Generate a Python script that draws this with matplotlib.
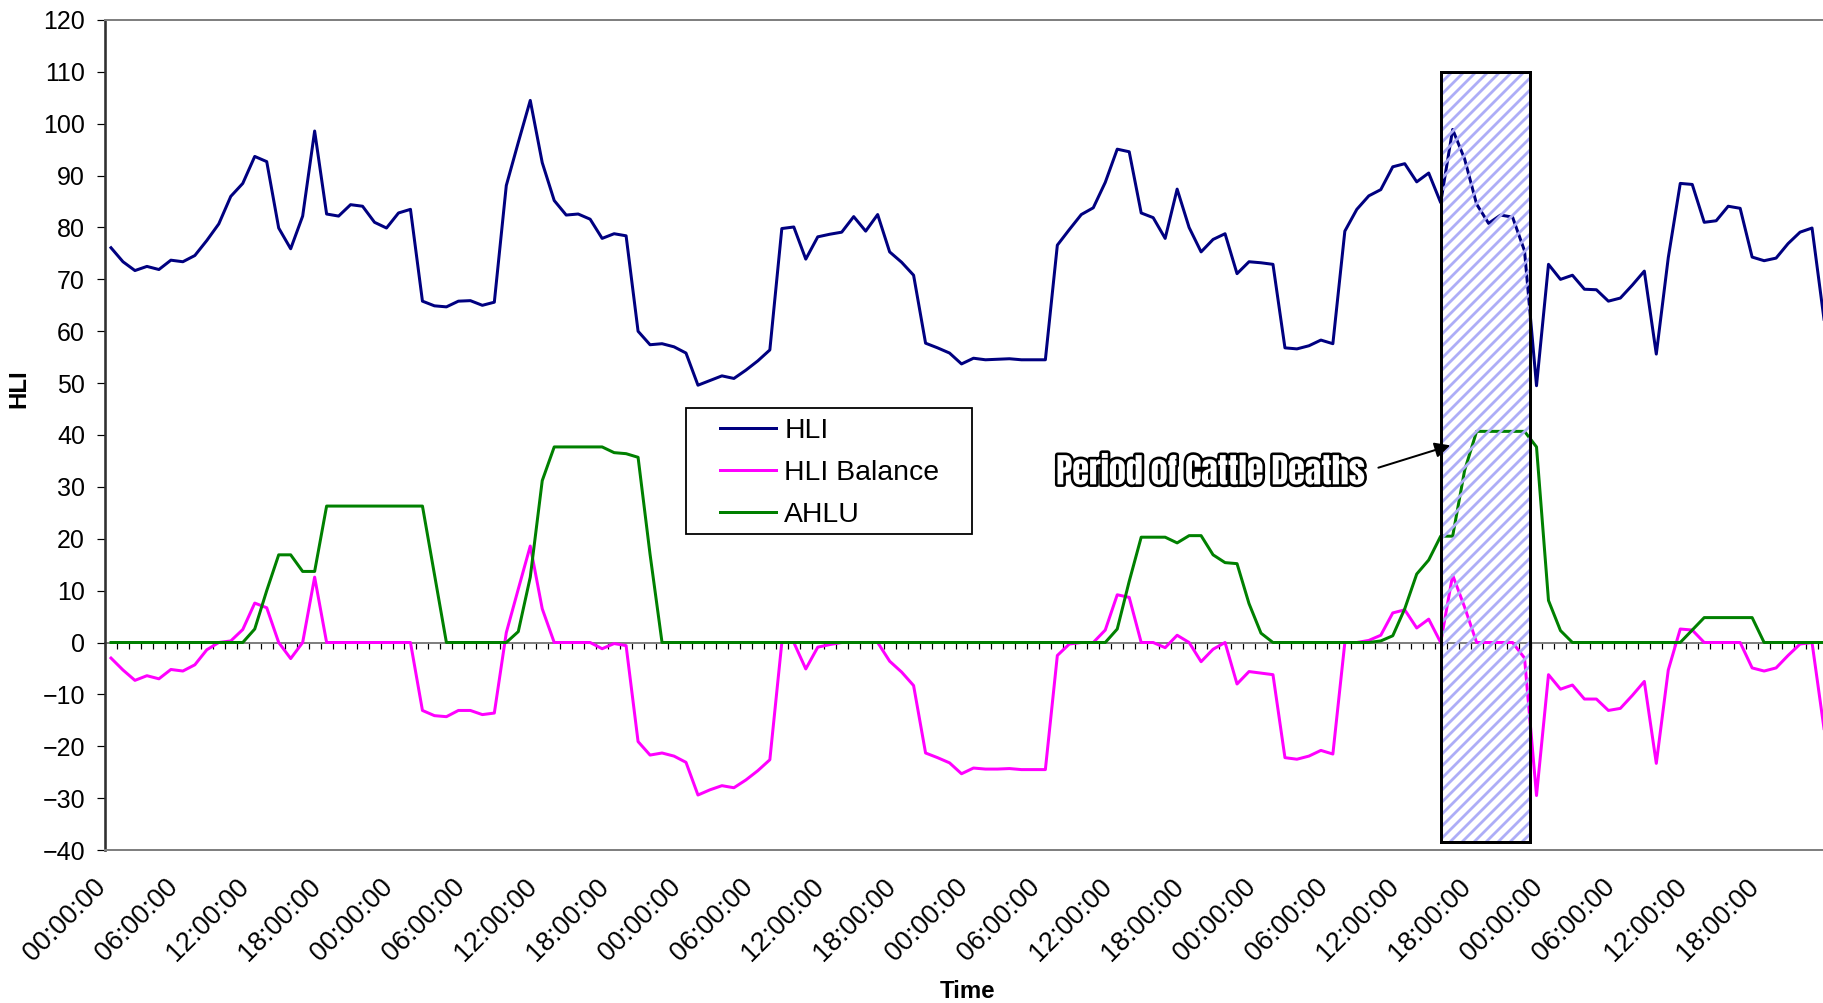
import numpy as np
import matplotlib
matplotlib.use('Agg')
import matplotlib.pyplot as plt
import matplotlib.patheffects as pe
from matplotlib.patches import Rectangle

# hourly readings over six days
hli = [
    76.1, 73.4, 71.7, 72.5, 71.9, 73.7, 73.4, 74.6, 77.5, 80.7, 86.0, 88.5,
    93.7, 92.7, 79.9, 75.9, 82.2, 98.6, 82.6, 82.2, 84.4, 84.1, 81.0, 79.9,
    82.8, 83.5, 65.8, 64.9, 64.7, 65.8, 65.9, 65.0, 65.6, 88.1, 96.4, 104.5,
    92.5, 85.2, 82.4, 82.6, 81.6, 77.9, 78.8, 78.4, 60.0, 57.4, 57.6, 57.0,
    55.8, 49.6, 50.5, 51.4, 50.9, 52.5, 54.3, 56.4, 79.8, 80.1, 73.9, 78.2,
    78.7, 79.1, 82.1, 79.3, 82.5, 75.3, 73.3, 70.8, 57.7, 56.8, 55.8, 53.7,
    54.8, 54.5, 54.6, 54.7, 54.5, 54.5, 54.5, 76.6, 79.6, 82.5, 83.8, 88.7,
    95.1, 94.6, 82.8, 81.9, 77.9, 87.4, 80.0, 75.3, 77.7, 78.8, 71.1, 73.4,
    73.2, 72.9, 56.8, 56.6, 57.2, 58.3, 57.6, 79.3, 83.5, 86.1, 87.3, 91.7,
    92.3, 88.8, 90.5, 84.8, 98.9, 93.2, 84.5, 80.8, 82.4, 82.0, 75.5, 49.5,
    72.9, 70.0, 70.8, 68.1, 68.0, 65.8, 66.4, 68.9, 71.6, 55.6, 74.2, 88.5,
    88.3, 81.0, 81.3, 84.1, 83.7, 74.3, 73.6, 74.1, 76.9, 79.1, 79.9, 62.3,
]

hli_balance = [
    -3.0, -5.3, -7.3, -6.4, -7.0, -5.2, -5.5, -4.3, -1.4, 0.0, 0.3, 2.5,
    7.6, 6.7, 0.0, -3.1, 0.0, 12.6, 0.0, 0.0, 0.0, 0.0, 0.0, 0.0,
    0.0, 0.0, -13.1, -14.1, -14.3, -13.1, -13.1, -13.9, -13.6, 1.9, 10.3, 18.6,
    6.5, 0.0, 0.0, 0.0, 0.0, -1.2, -0.2, -0.6, -19.1, -21.7, -21.3, -21.9,
    -23.1, -29.4, -28.4, -27.6, -28.0, -26.5, -24.7, -22.6, 0.0, 0.0, -5.1, -0.9,
    -0.4, 0.0, 0.0, 0.0, 0.0, -3.6, -5.7, -8.3, -21.3, -22.2, -23.2, -25.3,
    -24.2, -24.4, -24.4, -24.3, -24.5, -24.5, -24.5, -2.5, -0.3, 0.0, 0.0, 2.4,
    9.2, 8.7, 0.0, 0.0, -1.0, 1.4, 0.0, -3.7, -1.3, 0.0, -8.0, -5.6,
    -5.9, -6.2, -22.2, -22.5, -21.9, -20.8, -21.5, 0.0, 0.0, 0.4, 1.4, 5.7,
    6.3, 2.8, 4.5, 0.0, 13.0, 6.8, 0.0, 0.0, 0.0, 0.0, -3.0, -29.5,
    -6.2, -9.0, -8.2, -10.9, -10.9, -13.1, -12.7, -10.2, -7.5, -23.3, -5.3, 2.6,
    2.4, 0.0, 0.0, 0.0, 0.0, -4.9, -5.5, -4.9, -2.5, -0.3, 0.0, -16.6,
]

ahlu = [
    0, 0, 0, 0, 0, 0, 0, 0, 0, 0, 0, 0,
    2.6, 10.0, 16.9, 16.9, 13.7, 13.7, 26.3, 26.3, 26.3, 26.3, 26.3, 26.3,
    26.3, 26.3, 26.3, 13.2, 0, 0, 0, 0, 0, 0, 2.1, 12.6,
    31.2, 37.7, 37.7, 37.7, 37.7, 37.7, 36.6, 36.4, 35.7, 17.0, 0, 0,
    0, 0, 0, 0, 0, 0, 0, 0, 0, 0, 0, 0,
    0, 0, 0, 0, 0, 0, 0, 0, 0, 0, 0, 0,
    0, 0, 0, 0, 0, 0, 0, 0, 0, 0, 0, 0,
    2.6, 11.8, 20.3, 20.3, 20.3, 19.2, 20.6, 20.6, 16.9, 15.4, 15.2, 7.5,
    1.8, 0, 0, 0, 0, 0, 0, 0, 0, 0, 0.3, 1.3,
    6.5, 13.2, 15.9, 20.5, 20.5, 33.2, 40.7, 40.7, 40.7, 40.7, 40.7, 37.7,
    8.1, 2.3, 0, 0, 0, 0, 0, 0, 0, 0, 0, 0,
    2.4, 4.8, 4.8, 4.8, 4.8, 4.8, 0, 0, 0, 0, 0, 0,
]

time_labels = ['00:00:00', '06:00:00', '12:00:00', '18:00:00'] * 6

# hours in which the deaths happened, and the y extent of the marker box
death_start, death_end = 111.0, 118.45
box_low, box_high = -38.4, 110.0

y_min, y_max = -40, 120

W, H, DPI = 1823, 1003, 144
plt.rcParams['font.family'] = ['Liberation Sans', 'DejaVu Sans']
plt.rcParams['hatch.linewidth'] = 1.4
plt.rcParams['hatch.color'] = '#adadf7'

fig = plt.figure(figsize=(W / DPI, H / DPI), dpi=DPI)
ax = fig.add_axes([105 / W, 153 / H, 1725 / W, 830 / H])

x = np.arange(len(hli))
ax.plot(x, hli, color='#000080', lw=1.5, label='HLI', zorder=2)
ax.plot(x, hli_balance, color='#ff00ff', lw=1.5, label='HLI Balance', zorder=2.1)
ax.plot(x, ahlu, color='#008000', lw=1.5, label='AHLU', zorder=2.2)

ax.set_xlim(-0.5, len(hli) - 0.5)
ax.set_ylim(y_min, y_max)
ax.set_yticks(np.arange(y_min, y_max + 1, 10))

# category labels every six hours, hung off the bottom of the plot
ax.set_xticks(x[::6])
ax.set_xticklabels(time_labels, rotation=45, ha='right')
ax.tick_params(axis='x', length=0, labelsize=13.5, pad=12)
ax.tick_params(axis='y', direction='out', length=4, width=0.6,
               labelsize=12.5, pad=6)

for side in ['top', 'bottom', 'right']:
    ax.spines[side].set_color('#808080')
    ax.spines[side].set_linewidth(1.0)
ax.spines['left'].set_color('#303030')
ax.spines['left'].set_linewidth(1.3)

# the category axis crosses at zero with an hourly tick
zero_ax = ax.secondary_xaxis((0 - y_min) / (y_max - y_min))
zero_ax.set_xticks(np.arange(-0.5, len(hli), 1))
zero_ax.tick_params(direction='out', length=3, width=0.6, color='black',
                    labelbottom=False, labeltop=False)
zero_ax.spines['bottom'].set_color('#808080')
zero_ax.spines['bottom'].set_linewidth(1.0)

ax.set_xlabel('Time', fontweight='bold', fontsize=12)
ax.xaxis.set_label_coords(0.5, -0.157)
ax.set_ylabel('HLI', fontweight='bold', fontsize=12)
ax.yaxis.set_label_coords(-0.0435, 0.556)

# hatched box over the hours when cattle died
ax.add_patch(Rectangle((death_start, box_low), death_end - death_start,
                       box_high - box_low, facecolor='none', edgecolor='#adadf7',
                       lw=0, hatch='////', zorder=3))
ax.add_patch(Rectangle((death_start, box_low), death_end - death_start,
                       box_high - box_low, facecolor='none', edgecolor='black',
                       lw=1.5, zorder=3.1))

# outlined call-out text with an arrow into the box
ax.text(91.8, 32.9, 'Period of Cattle Deaths', ha='center', va='center',
        fontsize=17, color='white',
        family=['Anton', 'Oswald', 'Liberation Sans'],
        path_effects=[pe.Stroke(linewidth=2.6, foreground='black'), pe.Normal()],
        zorder=4)
ax.annotate('', xy=(111.8, 38.0), xytext=(105.8, 33.7),
            arrowprops=dict(arrowstyle='-|>', color='black', lw=1.0,
                            mutation_scale=16, shrinkA=0, shrinkB=0),
            zorder=4)

# legend with a fixed frame
ax.add_patch(Rectangle((686 / W, 1 - 534 / H), 286 / W, 126 / H,
                       transform=fig.transFigure, facecolor='white',
                       edgecolor='black', lw=0.9, clip_on=False, zorder=5))
leg = ax.legend(loc='center left', bbox_to_anchor=(720 / W, 1 - 473 / H),
                bbox_transform=fig.transFigure, frameon=False, fontsize=14.2,
                handlelength=1.96, handletextpad=0.3, labelspacing=0.56,
                borderpad=0, borderaxespad=0)
leg.set_zorder(6)

fig.savefig('out.png', dpi=DPI)
